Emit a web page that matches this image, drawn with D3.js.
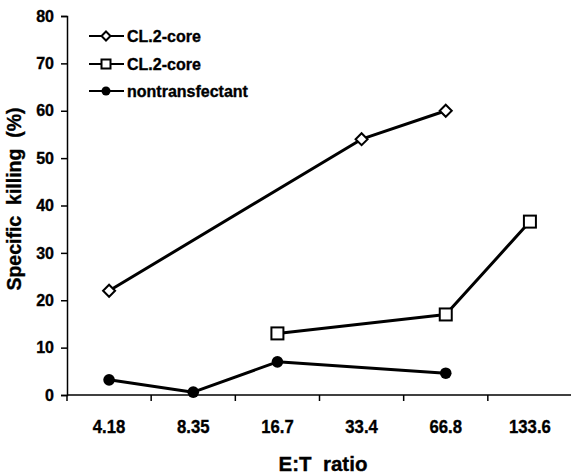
<!DOCTYPE html>
<html>
<head>
<meta charset="utf-8">
<script src="https://cdn.jsdelivr.net/npm/d3@7"></script>
<style>
  body { margin: 0; background: #fff; }
  svg text { font-family: "Liberation Sans", Arial, sans-serif; font-weight: bold; fill: #000; stroke: #000; stroke-width: 0.35px; }
</style>
</head>
<body>
<svg id="chart" width="571" height="476"></svg>
<script>
// E:T ratio categories
var ratios = ["4.18", "8.35", "16.7", "33.4", "66.8", "133.6"];
// specific killing (%) per ratio, null = not measured
var diamondVals = [22, null, null, 54, 60, null];
var squareVals = [null, null, 13, null, 17, 36.6];
var circleVals = [3.2, 0.6, 7, null, 4.6, null];
var yTicks = [0, 10, 20, 30, 40, 50, 60, 70, 80];
var legendNames = ["CL.2-core", "CL.2-core", "nontransfectant"];

var svg = d3.select('#chart');

var xScale = d3.scaleBand()
    .domain(ratios)
    .range([67, 572]);

var yScale = d3.scaleLinear()
    .domain([0, 80])
    .range([395, 16]);

// y axis
var yAxis = d3.axisLeft(yScale)
    .tickValues(yTicks)
    .tickSize(6)
    .tickPadding(7);
var gy = svg.append("g")
    .attr("transform", "translate(67,0)")
    .call(yAxis);
gy.select(".domain").attr("stroke", "#000").attr("stroke-width", 1.5);
gy.selectAll(".tick line").attr("stroke", "#000").attr("stroke-width", 1.5);
gy.selectAll("text")
    .attr("font-family", null)
    .attr("font-size", null)
    .attr("fill", null)
    .style("font-size", "16px");

// x axis - ticks sit at band edges
var gx = svg.append("g");
gx.append("line")
    .attr("x1", 67).attr("x2", 572)
    .attr("y1", 395).attr("y2", 395)
    .attr("stroke", "#000").attr("stroke-width", 1.5);
gx.selectAll("line.tk")
    .data(ratios)
    .enter()
    .append("line")
    .attr("class", "tk")
    .attr("x1", function(d) { return xScale(d); })
    .attr("x2", function(d) { return xScale(d); })
    .attr("y1", 395).attr("y2", 401)
    .attr("stroke", "#000").attr("stroke-width", 1.5);
gx.selectAll("text")
    .data(ratios)
    .enter()
    .append("text")
    .attr("transform", function(d) {
        return "translate(" + (xScale(d) + xScale.bandwidth() / 2) + ",433) scale(0.88,1)";
    })
    .attr("text-anchor", "middle")
    .style("font-size", "19px")
    .text(function(d) { return d; });

// axis titles
svg.append("text")
    .attr("transform", "translate(21,199) rotate(-90)")
    .attr("text-anchor", "middle")
    .style("font-size", "19.5px")
    .attr("xml:space", "preserve")
    .text("Specific  killing  (%)");
svg.append("text")
    .attr("x", 323)
    .attr("y", 471)
    .attr("text-anchor", "middle")
    .style("font-size", "20.5px")
    .attr("xml:space", "preserve")
    .text("E:T  ratio");

function pts(vals) {
    var out = [];
    vals.forEach(function(v, i) {
        if (v !== null) out.push({ x: xScale(ratios[i]) + xScale.bandwidth() / 2, y: yScale(v) });
    });
    return out;
}

var line = d3.line()
    .x(function(d) { return d.x; })
    .y(function(d) { return d.y; });

var series = [
    { vals: diamondVals, shape: "diamond" },
    { vals: squareVals, shape: "square" },
    { vals: circleVals, shape: "circle" }
];

function marker(g, shape, x, y, s) {
    if (shape === "diamond") {
        g.append("path")
            .attr("d", "M" + x + "," + (y - s) + "L" + (x + s) + "," + y + "L" + x + "," + (y + s) + "L" + (x - s) + "," + y + "Z")
            .attr("fill", "#fff").attr("stroke", "#000").attr("stroke-width", 2);
    } else if (shape === "square") {
        g.append("rect")
            .attr("x", x - s).attr("y", y - s)
            .attr("width", 2 * s).attr("height", 2 * s)
            .attr("fill", "#fff").attr("stroke", "#000").attr("stroke-width", 2);
    } else {
        g.append("circle")
            .attr("cx", x).attr("cy", y).attr("r", s)
            .attr("fill", "#000");
    }
}

series.forEach(function(s) {
    var p = pts(s.vals);
    var g = svg.append("g");
    g.append("path")
        .attr("d", line(p))
        .attr("fill", "none")
        .attr("stroke", "#000")
        .attr("stroke-width", 3)
        .attr("stroke-linejoin", "round");
    p.forEach(function(d) {
        marker(g, s.shape, d.x, d.y, s.shape === "circle" ? 5.8 : 6);
    });
});

// legend
var legY = [36, 64, 91];
series.forEach(function(s, i) {
    var g = svg.append("g");
    g.append("line")
        .attr("x1", 89).attr("x2", 124)
        .attr("y1", legY[i]).attr("y2", legY[i])
        .attr("stroke", "#000").attr("stroke-width", 2);
    marker(g, s.shape, 106, legY[i], 4.5);
    g.append("text")
        .attr("x", 127)
        .attr("y", legY[i] + 5.5)
        .style("font-size", "16px")
        .text(legendNames[i]);
});
</script>
</body>
</html>
